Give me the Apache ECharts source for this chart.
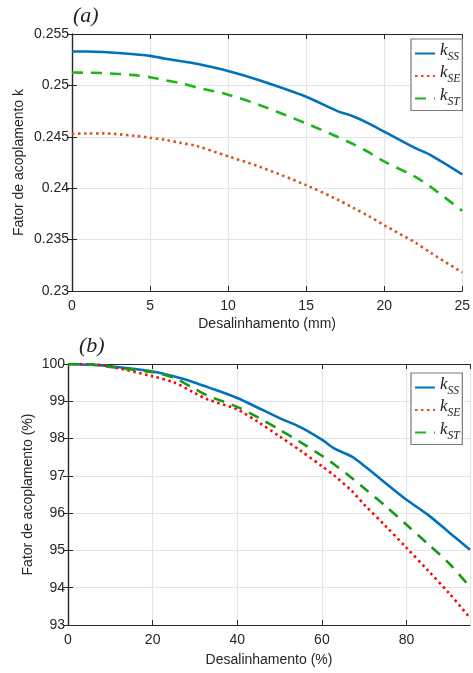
<!DOCTYPE html>
<html>
<head>
<meta charset="utf-8">
<script src="https://cdn.jsdelivr.net/npm/echarts@6/dist/echarts.min.js"></script>
<style>
  html, body { margin: 0; padding: 0; background: #fff; }
  #chart { width: 473px; height: 673px; }
</style>
</head>
<body>
<div id="chart"></div>
<script>
// panel (a): coupling factor vs misalignment (mm)
const xA = [0, 1, 2, 4, 5, 6, 7, 8, 10, 12, 15, 17, 18, 19, 20, 22, 23, 25];
const kssA = [0.2533, 0.2533, 0.25325, 0.25303, 0.25287, 0.2526, 0.25235, 0.2521, 0.2514, 0.2505, 0.2489, 0.2475, 0.2470, 0.2463, 0.2455, 0.2439, 0.2432, 0.24135];
const kseA = [0.2453, 0.24532, 0.24533, 0.2451, 0.24491, 0.2447, 0.2444, 0.2441, 0.2431, 0.2421, 0.2403, 0.2389, 0.2381, 0.2373, 0.2364, 0.2347, 0.2337, 0.2318];
const kstA = [0.25125, 0.25123, 0.2512, 0.2510, 0.2508, 0.2505, 0.2502, 0.2498, 0.2491, 0.2481, 0.2463, 0.2450, 0.2443, 0.2435, 0.2426, 0.2411, 0.2401, 0.2378];

// panel (b): coupling factor (%) vs misalignment (%)
const xB = [0, 5, 10, 20, 25, 30, 33, 40, 45, 50, 55, 60, 63, 67, 70, 75, 80, 85, 90, 95];
const kssB = [100, 99.98, 99.94, 99.80, 99.67, 99.5, 99.38, 99.09, 98.82, 98.55, 98.30, 97.97, 97.73, 97.52, 97.27, 96.81, 96.36, 95.96, 95.49, 95.02];
const kseB = [100, 100.0, 99.93, 99.67, 99.51, 99.22, 99.05, 98.78, 98.44, 98.06, 97.67, 97.26, 97.0, 96.6, 96.23, 95.66, 95.07, 94.47, 93.86, 93.19];
const kstB = [100, 99.99, 99.92, 99.78, 99.63, 99.33, 99.15, 98.85, 98.56, 98.24, 97.9, 97.54, 97.3, 96.95, 96.67, 96.19, 95.69, 95.18, 94.66, 94.02];

const names = ['kSS', 'kSE', 'kST'];

const pairs = (xs, ys) => xs.map((x, i) => [x, ys[i]]);

const axisColor = '#262626';
const gridColor = '#e4e4e4';
const font = 'Liberation Sans, Arial, sans-serif';
const serif = 'Liberation Serif, Times New Roman, serif';

function legendFor(top) {
  return {
    orient: 'vertical',
    left: 411,
    top: top,
    data: names,
    itemWidth: 20,
    itemHeight: 14,
    itemGap: 2,
    padding: [3, 2, 3, 3],
    borderColor: '#7a7a7a',
    borderWidth: 1.2,
    backgroundColor: '#fff',
    itemStyle: { opacity: 0 },   // hide the marker, keep the line sample
    formatter: n => '{k|k}{s|' + n.slice(1) + '}',
    textStyle: {
      rich: {
        k: { fontFamily: serif, fontStyle: 'italic', fontSize: 17, color: '#222', padding: [-6, 0, 0, 0] },
        s: { fontFamily: serif, fontStyle: 'italic', fontSize: 11.5, color: '#222', padding: [6, 0, 0, 0] }
      }
    }
  };
}

function xAxisFor(gridIndex, max, interval, name, gap, showMax) {
  return [{
    type: 'value', gridIndex, min: 0, max, interval,
    name, nameLocation: 'middle', nameGap: gap, nameMoveOverlap: false,
    nameTextStyle: { fontFamily: font, fontSize: 14, color: axisColor },
    axisLine: { onZero: false, lineStyle: { color: axisColor, width: 1.2 } },
    axisTick: { inside: true, length: 5, lineStyle: { color: axisColor } },
    axisLabel: { fontFamily: font, fontSize: 14, color: axisColor, margin: 8, showMaxLabel: showMax },
    splitLine: { show: true, lineStyle: { color: gridColor, width: 1.2 } }
  }, {
    type: 'value', gridIndex, min: 0, max, interval, position: 'top',
    axisLine: { onZero: false, lineStyle: { color: axisColor, width: 1.2 } },
    axisTick: { inside: true, length: 5, lineStyle: { color: axisColor } },
    axisLabel: { show: false }, splitLine: { show: false }
  }];
}

function yAxisFor(gridIndex, min, max, interval, name, gap, fmt) {
  return [{
    type: 'value', gridIndex, min, max, interval,
    name, nameLocation: 'middle', nameGap: gap, nameMoveOverlap: false,
    nameTextStyle: { fontFamily: font, fontSize: 14, color: axisColor },
    axisLine: { show: true, lineStyle: { color: axisColor, width: 1.2 } },
    axisTick: { show: true, inside: true, length: 5, lineStyle: { color: axisColor } },
    axisLabel: { fontFamily: font, fontSize: 14, color: axisColor, margin: 3, formatter: fmt },
    splitLine: { show: true, lineStyle: { color: gridColor, width: 1.2 } }
  }, {
    type: 'value', gridIndex, min, max, interval, position: 'right',
    axisLine: { show: true, lineStyle: { color: axisColor, width: 1.2 } },
    axisTick: { show: true, inside: true, length: 5, lineStyle: { color: axisColor } },
    axisLabel: { show: false }, splitLine: { show: false }
  }];
}

function line(name, data, xi, yi, color, type) {
  return {
    name, type: 'line', data, xAxisIndex: xi, yAxisIndex: yi,
    smooth: 0.3, showSymbol: false, symbol: 'none',
    lineStyle: { color, width: 2.6, type },
    itemStyle: { color },
    clip: true
  };
}

const chart = echarts.init(document.getElementById('chart'), null, { renderer: 'canvas' });
chart.setOption({
  animation: false,
  backgroundColor: '#fff',
  title: [
    { text: '(a)', left: 68, top: 0, textStyle: { fontFamily: serif, fontStyle: 'italic', fontWeight: 'normal', fontSize: 22, color: '#222' } },
    { text: '(b)', left: 74, top: 330, textStyle: { fontFamily: serif, fontStyle: 'italic', fontWeight: 'normal', fontSize: 22, color: '#222' } }
  ],
  legend: [legendFor(39), legendFor(373)],
  grid: [
    { left: 72, top: 34, width: 395, height: 257 },
    { left: 68, top: 364, width: 402, height: 261 }
  ],
  xAxis: [
    ...xAxisFor(0, 25, 5, 'Desalinhamento (mm)', 26, true),
    ...xAxisFor(1, 95, 20, 'Desalinhamento (%)', 28, false)
  ],
  yAxis: [
    ...yAxisFor(0, 0.23, 0.255, 0.005, 'Fator de acoplamento k', 46, v => String(parseFloat(v.toFixed(3)))),
    ...yAxisFor(1, 93, 100, 1, 'Fator de acoplamento (%)', 33, v => String(Math.round(v)))
  ],
  series: [
    line('kSS', pairs(xA, kssA), 0, 0, '#0072BD', 'solid'),
    line('kSE', pairs(xA, kseA), 0, 0, '#D95319', [2.5, 3.5]),
    line('kST', pairs(xA, kstA), 0, 0, '#1DB51D', [11, 8]),
    line('kSS', pairs(xB, kssB), 2, 2, '#0072BD', 'solid'),
    line('kSE', pairs(xB, kseB), 2, 2, '#FF0000', [2.5, 3.5]),
    line('kST', pairs(xB, kstB), 2, 2, '#179B17', [11, 8])
  ]
});
</script>
</body>
</html>
